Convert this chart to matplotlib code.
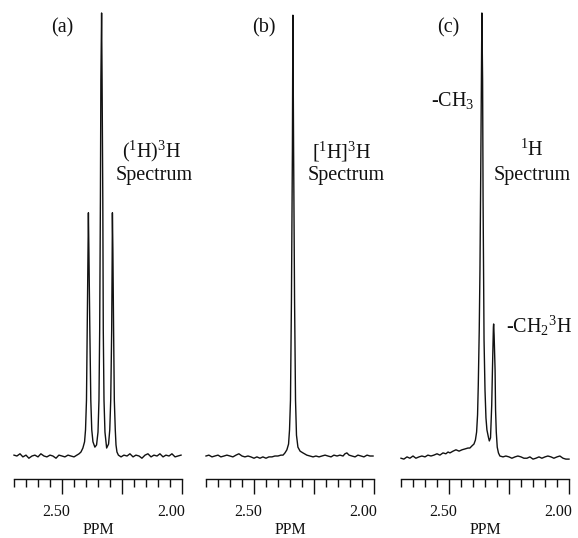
import matplotlib
matplotlib.use('Agg')
import matplotlib.pyplot as plt
from matplotlib.ticker import MultipleLocator
from matplotlib.transforms import ScaledTranslation

plt.rcParams['font.family'] = ['Liberation Serif', 'DejaVu Serif']
plt.rcParams['mathtext.fontset'] = 'custom'
plt.rcParams['mathtext.rm'] = 'Liberation Serif'
plt.rcParams['mathtext.it'] = 'Liberation Serif:italic'
plt.rcParams['mathtext.bf'] = 'Liberation Serif:bold'

# chemical shift (ppm) and relative intensity (% of tallest peak)
a_ppm = [2.700, 2.688, 2.675, 2.663, 2.650, 2.638, 2.625, 2.613, 2.600, 2.588, 2.575, 2.563,
         2.550, 2.538, 2.525, 2.513, 2.500, 2.488, 2.475, 2.463, 2.450, 2.438, 2.429, 2.421,
         2.413, 2.406, 2.402, 2.398, 2.395, 2.392, 2.390, 2.388, 2.384, 2.380, 2.376, 2.371,
         2.363, 2.356, 2.350, 2.346, 2.343, 2.340, 2.338, 2.335, 2.333, 2.330, 2.328, 2.325,
         2.321, 2.314, 2.306, 2.301, 2.297, 2.293, 2.291, 2.290, 2.288, 2.285, 2.282, 2.278,
         2.275, 2.271, 2.265, 2.254, 2.242, 2.229, 2.217, 2.204, 2.192, 2.179, 2.167, 2.154,
         2.142, 2.129, 2.117, 2.104, 2.092, 2.079, 2.067, 2.054, 2.042, 2.029, 2.017, 2.004]
a_int = [0.2, 0.0, 0.5, -0.2, 0.2, -0.5, 0.0, 0.2, -0.2, 0.5, 0.0, -0.2,
         0.2, 0.0, -0.5, 0.2, 0.0, -0.2, 0.2, 0.0, -0.2, 0.2, 0.5, 0.9,
         1.8, 3.2, 5.9, 12.6, 28.4, 44.2, 54.9, 46.5, 28.4, 12.6, 5.9, 3.2,
         2.0, 2.5, 5.4, 12.6, 28.4, 57.8, 84.9, 100.0, 84.9, 57.8, 28.4, 12.6,
         5.4, 1.8, 2.7, 5.9, 12.6, 28.4, 44.2, 54.9, 46.5, 28.4, 12.6, 5.9,
         2.5, 0.9, 0.2, -0.2, 0.2, 0.0, 0.5, -0.2, 0.2, 0.0, -0.5, 0.2,
         0.5, -0.2, 0.2, 0.0, 0.5, -0.2, 0.2, 0.0, 0.5, -0.2, 0.0, 0.2]

b_ppm = [2.700, 2.688, 2.675, 2.663, 2.650, 2.638, 2.625, 2.613, 2.600, 2.588, 2.575, 2.563,
         2.550, 2.538, 2.525, 2.513, 2.500, 2.488, 2.475, 2.463, 2.450, 2.438, 2.425, 2.413,
         2.400, 2.388, 2.379, 2.371, 2.363, 2.356, 2.352, 2.348, 2.344, 2.340, 2.338, 2.335,
         2.331, 2.327, 2.323, 2.317, 2.308, 2.296, 2.280, 2.267, 2.254, 2.242, 2.229, 2.217,
         2.204, 2.192, 2.179, 2.167, 2.154, 2.142, 2.129, 2.121, 2.113, 2.104, 2.092, 2.079,
         2.067, 2.054, 2.042, 2.029, 2.017, 2.004]
b_int = [0.0, 0.2, -0.2, 0.0, 0.2, -0.2, 0.0, 0.2, 0.0, -0.2, 0.2, 0.5,
         0.0, -0.2, 0.0, -0.2, -0.5, -0.2, -0.5, -0.2, -0.5, -0.2, -0.2, 0.0,
         0.0, 0.2, 0.2, 0.7, 1.4, 2.7, 5.9, 12.6, 35.2, 69.1, 99.5, 69.1,
         35.2, 12.6, 4.7, 2.0, 1.1, 0.7, 0.2, 0.0, -0.2, 0.0, -0.2, 0.0,
         0.2, 0.0, -0.2, 0.2, 0.0, 0.2, 0.0, 0.5, 0.7, 0.2, 0.0, -0.2,
         0.2, 0.0, -0.2, 0.2, 0.0, 0.0]

c_ppm = [2.700, 2.688, 2.675, 2.663, 2.650, 2.638, 2.625, 2.613, 2.600, 2.588, 2.575, 2.563,
         2.550, 2.538, 2.525, 2.513, 2.504, 2.496, 2.483, 2.471, 2.458, 2.446, 2.433, 2.421,
         2.413, 2.404, 2.396, 2.390, 2.385, 2.381, 2.378, 2.374, 2.371, 2.368, 2.365, 2.363,
         2.360, 2.358, 2.354, 2.350, 2.346, 2.342, 2.336, 2.332, 2.327, 2.322, 2.319, 2.315,
         2.314, 2.312, 2.308, 2.306, 2.303, 2.299, 2.294, 2.288, 2.275, 2.263, 2.250, 2.238,
         2.225, 2.213, 2.200, 2.188, 2.175, 2.163, 2.150, 2.138, 2.125, 2.113, 2.100, 2.088,
         2.075, 2.063, 2.050, 2.038, 2.025, 2.013, 2.000]
c_int = [-0.5, -0.7, -0.2, -0.5, 0.0, -0.5, -0.2, 0.0, -0.2, 0.2, 0.0, 0.2,
         0.5, 0.2, 0.7, 0.5, 0.9, 0.7, 1.1, 1.4, 1.1, 1.4, 1.6, 1.8,
         1.8, 2.3, 2.7, 3.6, 5.4, 9.3, 16.0, 28.4, 42.0, 62.3, 84.9, 100.0,
         84.9, 57.8, 26.2, 14.9, 8.6, 5.9, 4.3, 3.4, 4.1, 11.5, 19.4, 29.1,
         29.8, 27.3, 19.4, 10.4, 5.4, 2.0, 0.7, 0.0, -0.2, 0.0, -0.2, -0.5,
         -0.2, 0.0, -0.2, -0.5, -0.5, -0.2, -0.7, -0.5, -0.2, -0.5, -0.2, 0.0,
         -0.2, -0.5, -0.2, 0.0, -0.5, -0.7, -0.7]

tick_vals = [2.50, 2.00]
tick_text = ['2.50', '2.00']
x_label = 'PPM'

# (text, ppm, intensity) per panel
a_notes = [('(a)', 2.500, 96.6), ('($^1$H)$^3$H', 2.125, 68.7), ('Spectrum', 2.117, 63.4)]
b_notes = [('(b)', 2.458, 96.6), ('[$^1$H]$^3$H', 2.133, 68.7), ('Spectrum', 2.117, 63.4)]
c_notes = [('(c)', 2.504, 96.6), ('-CH$_3$', 2.485, 80.2), ('$^1$H', 2.154, 69.0),
           ('Spectrum', 2.154, 63.4), ('-CH$_2$$^3$H', 2.127, 29.3)]

W, H = 578, 538
fig = plt.figure(figsize=(W/100, H/100), dpi=100)

def panel(left, ppm, inten, notes):
    ax = fig.add_axes([left/W, 59/H, 168/W, 479/H])
    ax.patch.set_visible(False)
    ax.plot(ppm, inten, color='#111111', lw=1.0, clip_on=False)
    ax.set_xlim(2.70, 2.00)
    ax.set_ylim(-5.19, 102.93)
    for s in ['top', 'left', 'right']:
        ax.spines[s].set_visible(False)
    ax.spines['bottom'].set_linewidth(1.0)
    ax.spines['bottom'].set_color('#111111')
    ax.yaxis.set_visible(False)
    ax.xaxis.set_major_locator(MultipleLocator(0.25))
    ax.xaxis.set_minor_locator(MultipleLocator(0.05))
    ax.tick_params(axis='x', which='major', length=10.8, width=1.0, color='#111111', labelbottom=False)
    ax.tick_params(axis='x', which='minor', length=5.8, width=1.0, color='#111111')
    tr = ax.get_xaxis_transform()
    for v, t, dx in zip(tick_vals, tick_text, [-6, -11]):
        ax.text(v, 0, t, transform=tr + ScaledTranslation(dx/100, -33/100, fig.dpi_scale_trans),
                ha='center', va='center', fontsize=11.5, color='#111111')
    ax.text(0.5, 0, x_label, transform=ax.transAxes + ScaledTranslation(0, -51/100, fig.dpi_scale_trans),
            ha='center', va='center', fontsize=11.5, color='#111111')
    for t, x, y in notes:
        ax.text(x, y, t, ha='center', va='center', fontsize=14.5, color='#111111', clip_on=False)
    return ax

panel(14, a_ppm, a_int, a_notes)
panel(206, b_ppm, b_int, b_notes)
panel(401, c_ppm, c_int, c_notes)

fig.savefig('out.png', dpi=100)
